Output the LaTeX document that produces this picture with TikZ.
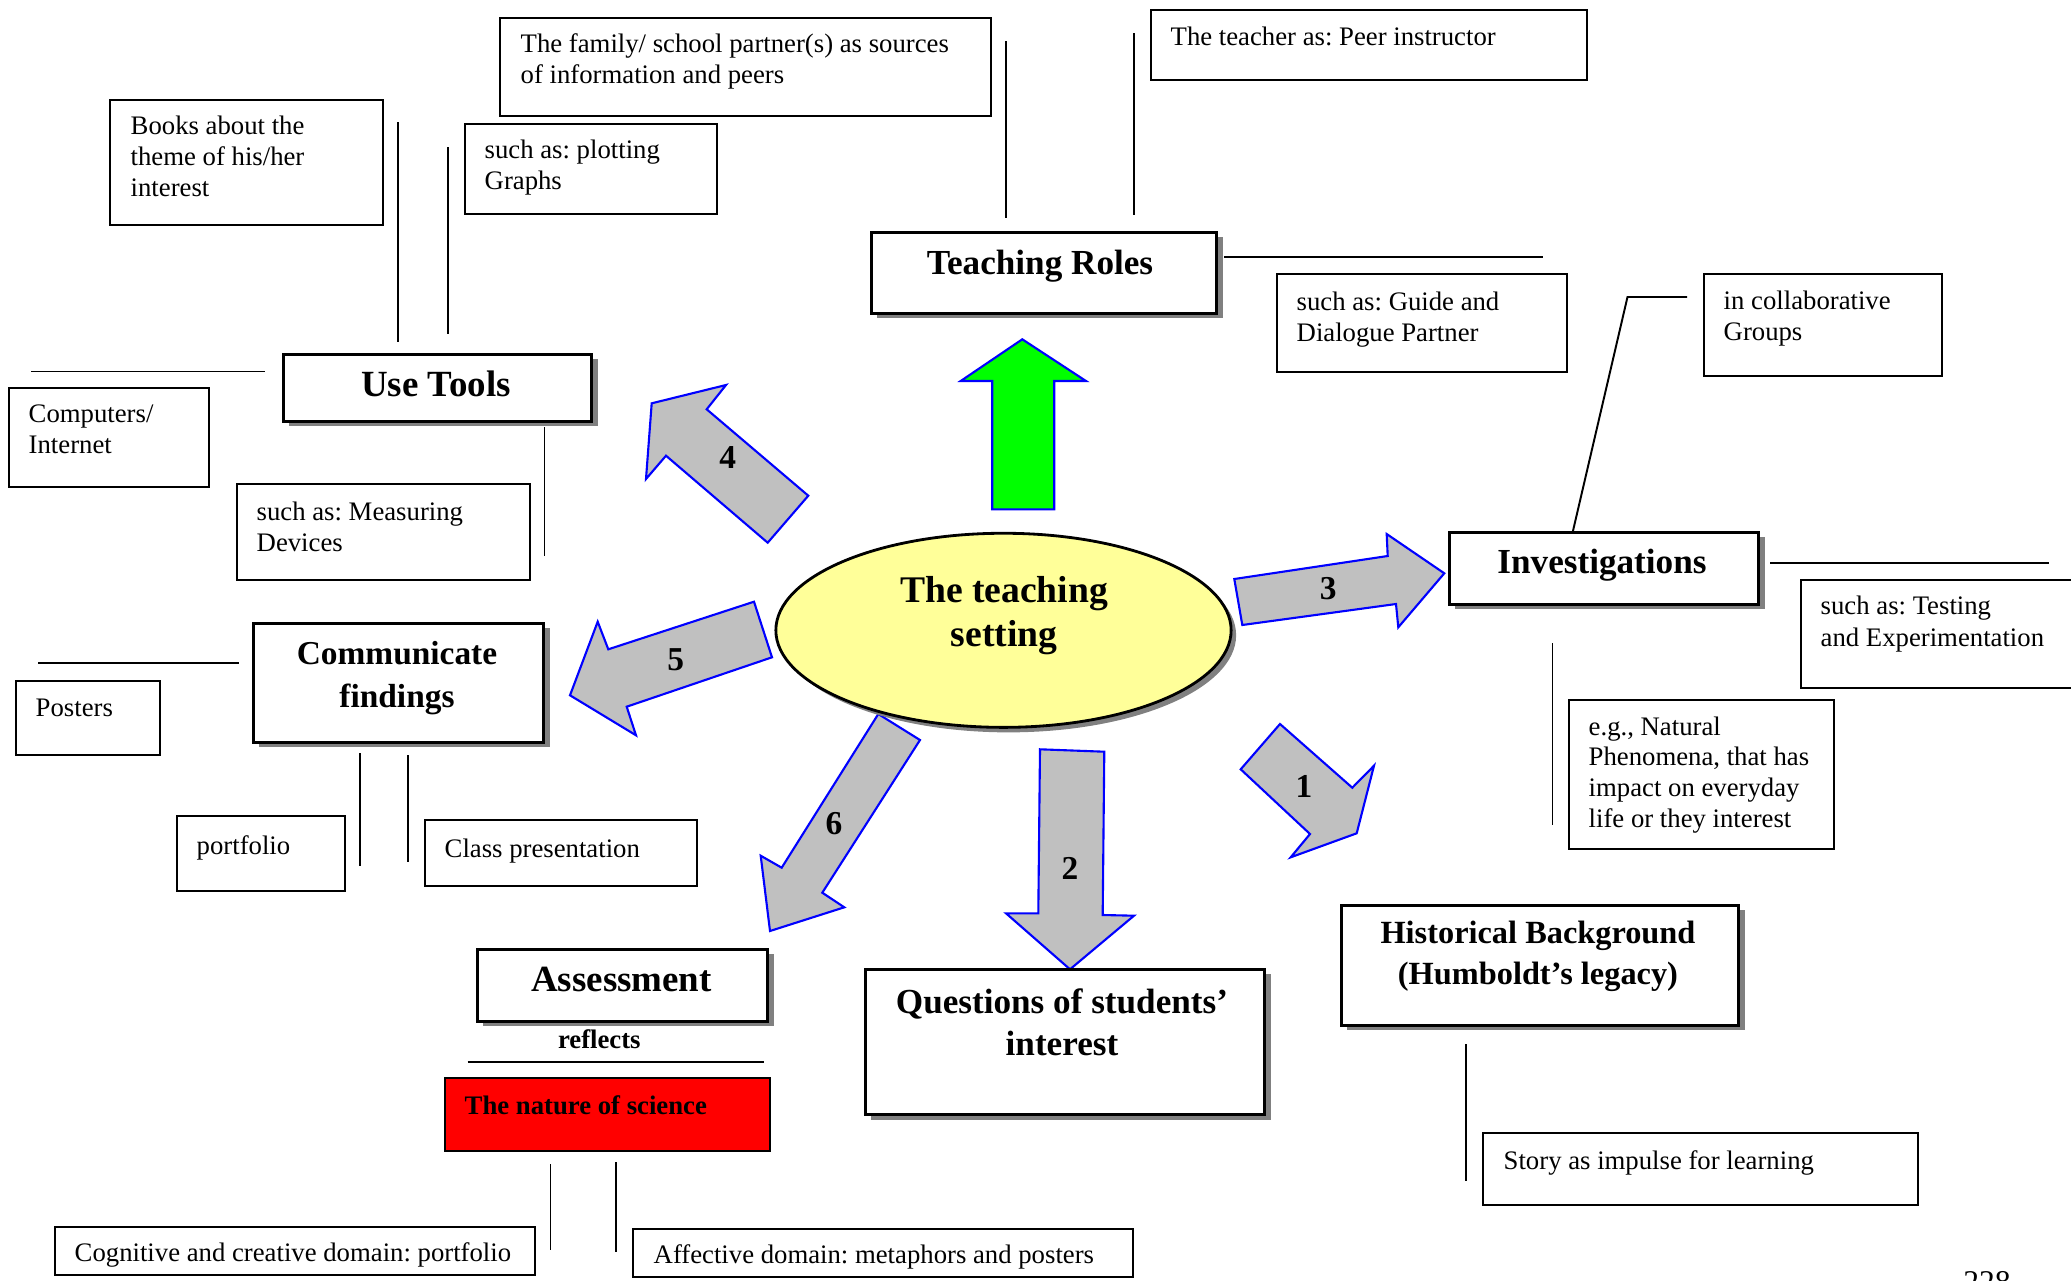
\documentclass[tikz,border=0pt]{standalone}
\usepackage{fontspec}
\setmainfont{Liberation Serif}
\usetikzlibrary{shapes.geometric, shadows}
\frenchspacing

\definecolor{settingyellow}{RGB}{255,255,153}
\definecolor{rimblue}{RGB}{0,0,255}
\definecolor{stepgray}{RGB}{192,192,192}
\definecolor{shadegray}{RGB}{128,128,128}
\definecolor{rolegreen}{RGB}{0,255,0}
\definecolor{naturered}{RGB}{255,0,0}

\tikzset{
  cell/.style={draw, line width=0.6pt, fill=white, anchor=north west, inner sep=0pt},
  celltext/.style={anchor=north west, inner sep=0pt, align=left, font=\fontsize{7.6}{8.8}\selectfont},
  topic/.style={draw, line width=0.8pt, fill=white, anchor=north west, inner sep=0pt,
    drop shadow={shadow xshift=0.06cm, shadow yshift=-0.05cm, fill=shadegray, opacity=1}},
  topictext/.style={anchor=base, inner sep=0pt, align=center, font=\bfseries\fontsize{10}{12}\selectfont},
  spoke/.style={line width=0.55pt},
  blockarrow/.style={draw=rimblue, line width=0.6pt, fill=stepgray, line join=miter},
  stepno/.style={font=\bfseries\fontsize{9.5}{11}\selectfont, inner sep=0pt}
}

\begin{document}
\begin{tikzpicture}[x=0.01cm, y=-0.01cm]
  \useasboundingbox (0,0) rectangle (2071,1281);

  % thin spokes
  \draw[spoke] (1006,41) -- (1006,218);
  \draw[spoke] (1134,33) -- (1134,215);
  \draw[spoke] (398,122) -- (398,342);
  \draw[spoke] (448,147) -- (448,334);
  \draw[spoke] (31,371.5) -- (264.5,371.5);
  \draw[spoke] (544.5,427) -- (544.5,556);
  \draw[spoke] (1224,257) -- (1542.5,257);
  \draw[spoke] (1687,297) -- (1627.5,297) -- (1572.5,533);
  \draw[spoke] (1770,563.3) -- (2049,563.3);
  \draw[spoke] (1552.5,643) -- (1552.5,824.5);
  \draw[spoke] (38,663.4) -- (239,663.4);
  \draw[spoke] (360,753) -- (360,866);
  \draw[spoke] (408,755) -- (408,862);
  \draw[spoke] (467.5,1061.8) -- (764,1061.8);
  \draw[spoke] (550.5,1164) -- (550.5,1250);
  \draw[spoke] (616,1162) -- (616,1252);
  \draw[spoke] (1466,1044) -- (1466,1181);

  % block arrows
  \draw[blockarrow, fill=rolegreen] (1022.3,339.3) -- (1086,381) -- (1054.3,381) -- (1054.3,509.3)
    -- (992.3,509.3) -- (992.3,381) -- (960.7,381) -- cycle;
  \draw[blockarrow] (1280,724) -- (1352.3,787.7) -- (1374,765.7) -- (1356.7,833.3)
    -- (1290.7,857.3) -- (1310,834) -- (1240.7,769.3) -- cycle;
  \draw[blockarrow] (1040,749.3) -- (1104.3,751.7) -- (1102.7,915) -- (1134,915.7)
    -- (1070,969.3) -- (1006,913.3) -- (1038.3,913.3) -- cycle;
  \draw[blockarrow] (1234.3,579) -- (1387.7,556) -- (1386.7,534) -- (1444.3,573.3)
    -- (1398.3,627.3) -- (1396,604) -- (1242.3,625) -- cycle;
  \draw[blockarrow] (651.7,403.3) -- (726,385) -- (706.7,409.3) -- (808.3,495.7)
    -- (767.7,542.7) -- (666,455.7) -- (646,479) -- cycle;
  \draw[blockarrow] (597.7,621.7) -- (608.3,649.3) -- (754,601.7) -- (772,657.3)
    -- (626.7,706.7) -- (636,735.3) -- (570,695.3) -- cycle;
  \draw[blockarrow] (878.3,714) -- (920,740) -- (822.3,892.7) -- (844.3,907.3)
    -- (770,931) -- (760.7,855.7) -- (781.7,867.7) -- cycle;

  \node[stepno] (no1) at (1304,786) {1};
  \node[stepno] (no2) at (1070,868.3) {2};
  \node[stepno] (no3) at (1328.3,588.3) {3};
  \node[stepno] (no4) at (727.7,457.7) {4};
  \node[stepno] (no5) at (675.7,659.3) {5};
  \node[stepno] (no6) at (834,824) {6};

  % centre
  \node[ellipse, draw, line width=0.8pt, fill=settingyellow, inner sep=0pt, minimum width=4.55cm, minimum height=1.94cm,
    drop shadow={shadow xshift=0.05cm, shadow yshift=-0.05cm, fill=shadegray, opacity=1}] (setting) at (1003.5,630.3) {};
  \node[topictext, anchor=north, font=\bfseries\fontsize{10.7}{12.6}\selectfont] (settingtxt) at (1004,575.7) {The teaching\\setting};

  % Teaching Roles
  \node[topic, minimum width=3.45cm, minimum height=0.81cm] (roles) at (870,231) {};
  \node[topictext] (rolestxt) at (1040,274) {Teaching Roles};
  \node[cell, minimum width=4.91cm, minimum height=0.98cm] (family) at (499,17) {};
  \node[celltext] (familytxt) at ([shift={(21,16)}]family.north west) {The family/ school partner(s) as sources\\of information and peers};
  \node[cell, minimum width=4.36cm, minimum height=0.70cm] (teacher) at (1150,9) {};
  \node[celltext] (teachertxt) at ([shift={(20,17)}]teacher.north west) {The teacher as: Peer instructor};
  \node[cell, minimum width=2.90cm, minimum height=0.98cm] (guide) at (1276,273) {};
  \node[celltext] (guidetxt) at ([shift={(20,18)}]guide.north west) {such as: Guide and\\Dialogue Partner};

  % Use Tools
  \node[topic, minimum width=3.08cm, minimum height=0.67cm] (tools) at (282,353) {};
  \node[topictext, font=\bfseries\fontsize{10.5}{12}\selectfont] (toolstxt) at (436,396) {Use Tools};
  \node[cell, minimum width=2.73cm, minimum height=1.25cm] (books) at (109,99) {};
  \node[celltext] (bookstxt) at ([shift={(21,16)}]books.north west) {Books about the\\theme of his/her\\interest};
  \node[cell, minimum width=2.52cm, minimum height=0.90cm] (plotting) at (464,123) {};
  \node[celltext] (plottingtxt) at ([shift={(20,16)}]plotting.north west) {such as: plotting\\Graphs};
  \node[cell, minimum width=2.00cm, minimum height=0.99cm] (computers) at (8,387) {};
  \node[celltext] (computerstxt) at ([shift={(20,17)}]computers.north west) {Computers/\\Internet};
  \node[cell, minimum width=2.93cm, minimum height=0.96cm] (measuring) at (236,483) {};
  \node[celltext] (measuringtxt) at ([shift={(20,18)}]measuring.north west) {such as: Measuring\\Devices};

  % Investigations
  \node[topic, minimum width=3.09cm, minimum height=0.72cm] (investigations) at (1448,531) {};
  \node[topictext] (investigationstxt) at (1602,573.5) {Investigations};
  \node[cell, minimum width=2.38cm, minimum height=1.02cm] (collab) at (1703,273) {};
  \node[celltext] (collabtxt) at ([shift={(20,17)}]collab.north west) {in collaborative\\Groups};
  \node[cell, minimum width=2.80cm, minimum height=1.08cm] (testing) at (1800,579) {};
  \node[celltext, font=\fontsize{7.6}{9.2}\selectfont] (testingtxt) at ([shift={(20,16)}]testing.north west) {such as: Testing\\and Experimentation};
  \node[cell, minimum width=2.65cm, minimum height=1.49cm] (natural) at (1568,699) {};
  \node[celltext, font=\fontsize{7.6}{8.7}\selectfont] (naturaltxt) at ([shift={(20,17)}]natural.north west) {e.g., Natural\\Phenomena, that has\\impact on everyday\\life or they interest};

  % Communicate findings
  \node[topic, minimum width=2.90cm, minimum height=1.19cm] (communicate) at (252,622) {};
  \node[topictext, anchor=north, font=\bfseries\fontsize{9.5}{12}\selectfont] (communicatetxt) at (397,641) {Communicate\\findings};
  \node[cell, minimum width=1.44cm, minimum height=0.74cm] (posters) at (15,680) {};
  \node[celltext] (posterstxt) at ([shift={(20,18)}]posters.north west) {Posters};
  \node[cell, minimum width=1.68cm, minimum height=0.75cm] (portfolio) at (176,815) {};
  \node[celltext] (portfoliotxt) at ([shift={(20,20)}]portfolio.north west) {portfolio};
  \node[cell, minimum width=2.72cm, minimum height=0.66cm] (presentation) at (424,819) {};
  \node[celltext] (presentationtxt) at ([shift={(20,19)}]presentation.north west) {Class presentation};

  % Assessment
  \node[topic, minimum width=2.90cm, minimum height=0.72cm] (assessment) at (476,948) {};
  \node[topictext, font=\bfseries\fontsize{10.5}{12}\selectfont] (assessmenttxt) at (621.5,991) {Assessment};
  \node[anchor=base, inner sep=0pt, font=\bfseries\fontsize{7.6}{9}\selectfont] (reflects) at (599.3,1048) {reflects};
  \node[cell, fill=naturered, minimum width=3.25cm, minimum height=0.73cm] (nature) at (444,1077) {};
  \node[celltext, font=\bfseries\fontsize{7.6}{8.8}\selectfont] (naturetxt) at ([shift={(20,18)}]nature.north west) {The nature of science};
  \node[cell, minimum width=4.80cm, minimum height=0.48cm] (cognitive) at (54,1226) {};
  \node[celltext] (cognitivetxt) at ([shift={(20,16)}]cognitive.north west) {Cognitive and creative domain: portfolio};
  \node[cell, minimum width=5.00cm, minimum height=0.48cm] (affective) at (632,1228) {};
  \node[celltext] (affectivetxt) at ([shift={(21,16)}]affective.north west) {Affective domain: metaphors and posters};

  % Questions of students' interest
  \node[topic, minimum width=3.99cm, minimum height=1.45cm] (questions) at (864,968) {};
  \node[topictext, anchor=north] (questionstxt) at (1062,987.7) {Questions of students’\\interest};

  % Historical Background
  \node[topic, minimum width=3.97cm, minimum height=1.20cm] (historical) at (1340,904) {};
  \node[topictext, anchor=north, font=\bfseries\fontsize{9.2}{11.6}\selectfont] (historicaltxt) at (1538,920.2) {Historical Background\\(Humboldt’s legacy)};
  \node[cell, minimum width=4.35cm, minimum height=0.72cm] (story) at (1482,1132) {};
  \node[celltext] (storytxt) at ([shift={(21,18)}]story.north west) {Story as impulse for learning};

  % page number
  \node[anchor=base, inner sep=0pt, font=\fontsize{9}{11}\selectfont] (pageno) at (1987,1292) {228};
\end{tikzpicture}
\end{document}
